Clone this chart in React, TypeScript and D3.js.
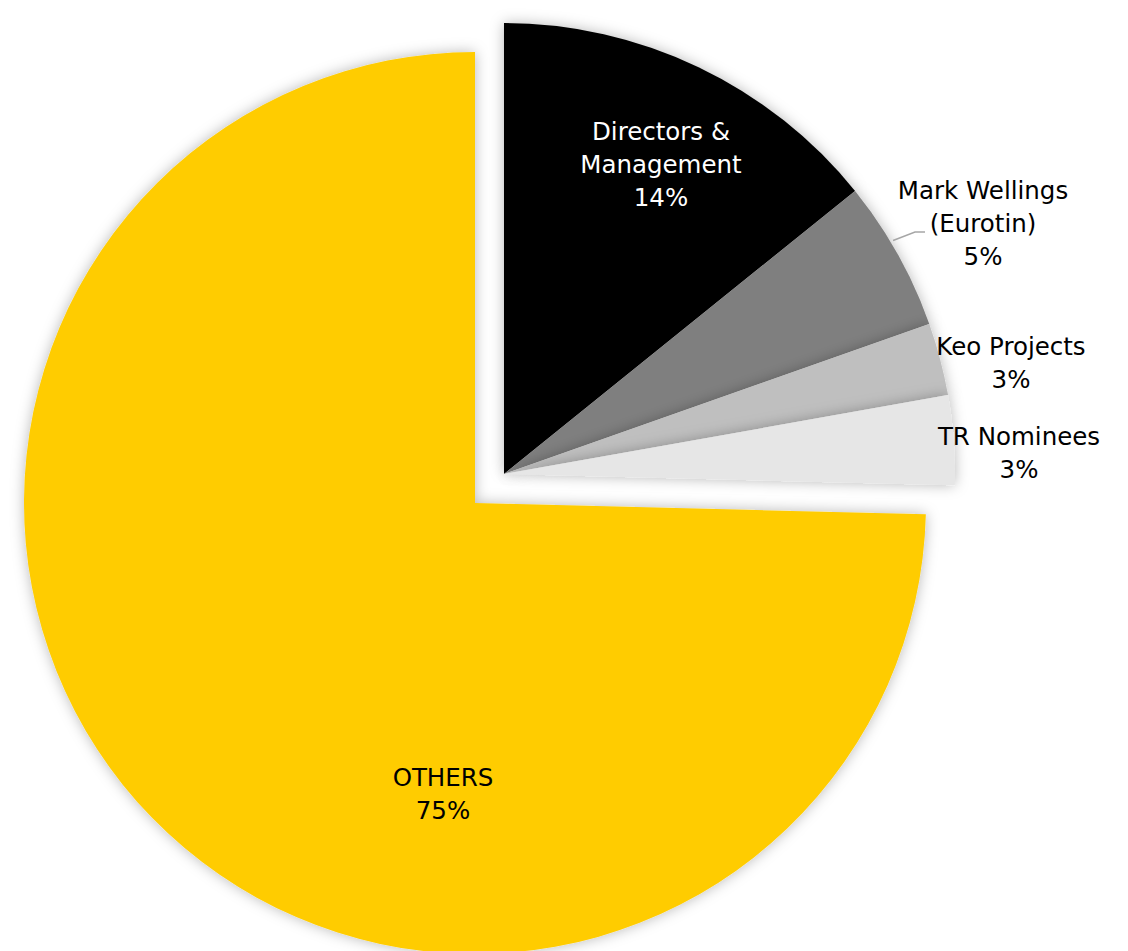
import React from "react";
import * as d3 from "d3";

const categories = ["Directors & Management", "Mark Wellings (Eurotin)", "Keo Projects", "TR Nominees", "OTHERS"];
const values = [14.2, 5.4, 2.6, 3.2, 74.6];
const labelLines = [["Directors &", "Management"], ["Mark Wellings", "(Eurotin)"], ["Keo Projects"], ["TR Nominees"], ["OTHERS"]];
const colors = ["#000000", "#7f7f7f", "#bfbfbf", "#e6e6e6", "#ffcc00"];
const textColors = ["#ffffff", "#000000", "#000000", "#000000", "#000000"];
const exploded = [true, true, true, true, false];

const W = 1128, H = 951;
const cx = 475, cy = 503, R = 451;
const explodeDist = 41;
const explodeAngle = Math.PI / 4;
// label anchor points (x, y of first line center)
const labelPos: [number, number][] = [[661, 131], [983, 190], [1011, 346], [1019, 436], [443, 777]];

export default function App() {
  const pie = d3.pie<number>().sort(null).value((d) => d).startAngle(0).endAngle(2 * Math.PI);
  const arcs = pie(values);
  const arc = d3.arc<d3.PieArcDatum<number>>().innerRadius(0).outerRadius(R);
  const [ox, oy] = d3.pointRadial(explodeAngle, explodeDist);
  const fmt = d3.format(".0f");
  const fs = 24.5, lh = 33;

  // leader line for Mark Wellings
  const mw = arcs[1];
  const mid = (mw.startAngle + mw.endAngle) / 2;
  const [lx, ly] = d3.pointRadial(mid - 0.03, R);

  return (
    <svg width={W} height={H} style={{ position: "absolute", left: 0, top: 0, background: "#fff" }}
      fontFamily="'DejaVu Sans', Verdana, sans-serif">
      <defs>
        <filter id="sh" x="-20%" y="-20%" width="140%" height="140%">
          <feDropShadow dx="0" dy="0" stdDeviation="7" floodColor="#000" floodOpacity="0.28" />
        </filter>
      </defs>
      {arcs.map((a, i) => {
        const tx = cx + (exploded[i] ? ox : 0);
        const ty = cy + (exploded[i] ? oy : 0);
        return (
          <path key={categories[i]} d={arc(a) || ""} transform={`translate(${tx},${ty})`} fill={colors[i]} filter="url(#sh)" />
        );
      })}
      <polyline
        points={`${cx + ox + lx + 2},${cy + oy + ly - 2} ${915},${232} ${925},${232}`}
        fill="none" stroke="#a6a6a6" strokeWidth={1.5} />
      {arcs.map((a, i) => {
        const [x, y] = labelPos[i];
        const lines = [...labelLines[i], fmt(values[i]) + "%"];
        return (
          <text key={"t" + i} x={x} y={y} fill={textColors[i]} fontSize={fs} textAnchor="middle">
            {lines.map((l, j) => (
              <tspan key={j} x={x} y={y + j * lh} dy="0.35em">{l}</tspan>
            ))}
          </text>
        );
      })}
    </svg>
  );
}
